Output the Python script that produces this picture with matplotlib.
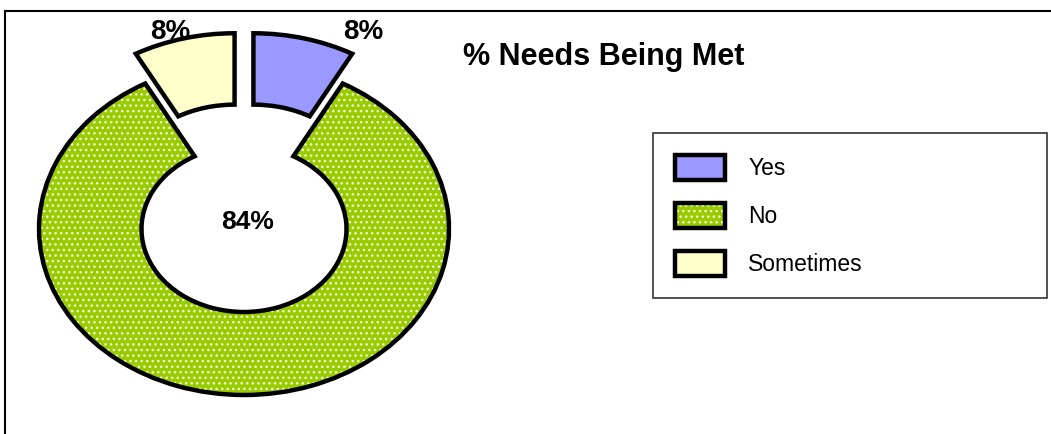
import matplotlib
matplotlib.use("Agg")
import matplotlib.pyplot as plt
import matplotlib.colors as mcolors
from matplotlib.lines import Line2D

# ---- data ----
categories = ["Yes", "No", "Sometimes"]
values = [8, 84, 8]
colors = ["#9999FF", "#99CC00", "#FFFFCC"]
title = "% Needs Being Met"

plt.rcParams['font.family'] = ['Liberation Sans', 'DejaVu Sans']
plt.rcParams['hatch.linewidth'] = 1.0

W, H = 1051, 434
fig = plt.figure(figsize=(W / 100, H / 100), dpi=100)
ax = fig.add_axes([0, 0, 1, 1])

# pixel mapping of the donut (ellipse: 205 px horizontally, 166 px vertically)
cx, cy, rx, ry = 244, 229, 205, 166

wedges, _ = ax.pie(values, startangle=90, counterclock=False,
                   colors=colors, explode=[0.185, 0, 0.185],
                   hatch=['', '...', ''],
                   wedgeprops=dict(width=0.5, edgecolor='black', linewidth=3.2))
for i in (0, 2):
    wedges[i].set_width(0.43)
w = wedges[1]
if hasattr(w, 'set_hatchcolor'):
    w.set_hatchcolor('#F4FFE0')
else:
    w._hatch_color = mcolors.to_rgba('#F4FFE0')

ax.set_aspect('auto')
ax.set_xlim(-cx / rx, (W - cx) / rx)
ax.set_ylim((cy - H) / ry, cy / ry)
ax.axis('off')

def fx(px):
    return px / W

def fy(py):
    return 1 - py / H

# percentage labels
fig.text(fx(170), fy(39), f"{values[2]}%", fontsize=20, fontweight='bold',
         ha='center', va='baseline')
fig.text(fx(363), fy(39), f"{values[0]}%", fontsize=20, fontweight='bold',
         ha='center', va='baseline')
fig.text(fx(248), fy(229), f"{values[1]}%", fontsize=19, fontweight='bold',
         ha='center', va='baseline')

# title
fig.text(fx(463), fy(65), title, fontsize=22, fontweight='bold',
         ha='left', va='baseline')

# legend
leg = fig.legend(wedges, categories, loc='upper left',
                 bbox_to_anchor=(fx(653), fy(133), fx(1047) - fx(653), 0.0001),
                 mode='expand', fontsize=16.5, frameon=True, fancybox=False,
                 edgecolor='black', handlelength=2.2, handleheight=1.3,
                 labelspacing=1.0, handletextpad=1.0, borderpad=0.95,
                 borderaxespad=0)
leg.get_frame().set_linewidth(1.2)

# outer chart frame (top and left edges visible)
fig.add_artist(Line2D([fx(5), 1], [fy(11), fy(11)], color='black', lw=1.5,
                      transform=fig.transFigure))
fig.add_artist(Line2D([fx(5), fx(5)], [fy(11), 0], color='black', lw=1.5,
                      transform=fig.transFigure))

fig.savefig("out.png", dpi=100, facecolor='white')
